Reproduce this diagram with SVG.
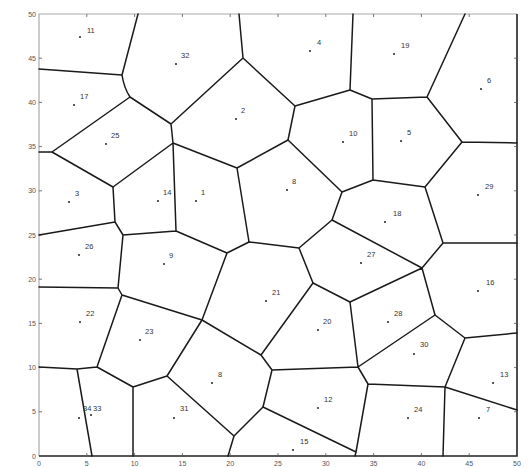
<svg xmlns="http://www.w3.org/2000/svg" width="530" height="468" viewBox="0 0 530 468">
<style>
.e{stroke:#1a1a1a;stroke-width:1.5;fill:none;stroke-linecap:round}
.tk{stroke:#555;stroke-width:0.8}
.ax{font-family:"Liberation Sans",Arial,sans-serif;font-size:7px;fill:#555}
.lb{font-family:"Liberation Sans",Arial,sans-serif;font-size:7.5px;fill:#333}
.pt{fill:#222}
</style>
<rect width="530" height="468" fill="#fff"/>
<g id="axes">
<path d="M39,456 V14 H517" stroke="#aaa" stroke-width="1.2" fill="none"/>
<path d="M39,456 H517 V14" stroke="#222" stroke-width="1.6" fill="none"/>
<path class="tk" d="M86.8,456v-3M134.6,456v-3M182.4,456v-3M230.2,456v-3M278,456v-3M325.8,456v-3M373.6,456v-3M421.4,456v-3M469.2,456v-3M86.8,14v3M134.6,14v3M182.4,14v3M230.2,14v3M278,14v3M325.8,14v3M373.6,14v3M421.4,14v3M469.2,14v3M39,411.8h3M39,367.6h3M39,323.4h3M39,279.2h3M39,235h3M39,190.8h3M39,146.6h3M39,102.4h3M39,58.2h3M517,411.8h-3M517,367.6h-3M517,323.4h-3M517,279.2h-3M517,235h-3M517,190.8h-3M517,146.6h-3M517,102.4h-3M517,58.2h-3"/>
<g class="ax" text-anchor="end">
<text x="36" y="458.5">0</text><text x="36" y="414.3">5</text><text x="36" y="370.1">10</text><text x="36" y="325.9">15</text><text x="36" y="281.7">20</text><text x="36" y="237.5">25</text><text x="36" y="193.3">30</text><text x="36" y="149.1">35</text><text x="36" y="104.9">40</text><text x="36" y="60.7">45</text><text x="36" y="16.5">50</text>
</g>
<g class="ax" text-anchor="middle">
<text x="39" y="466">0</text><text x="86.8" y="466">5</text><text x="134.6" y="466">10</text><text x="182.4" y="466">15</text><text x="230.2" y="466">20</text><text x="278" y="466">25</text><text x="325.8" y="466">30</text><text x="373.6" y="466">35</text><text x="421.4" y="466">40</text><text x="469.2" y="466">45</text><text x="517" y="466">50</text>
</g>
</g>
<g id="connectors" class="e">
<path d="M138,14L122,75M39,69L122,75M122,75Q124,88 130,97M130,97L171,124M171,124L243,58M243,58L239,14M243,58L295,106M171,124L173,143M130,97L52,152M52,152L39,152M52,152L113,187M113,187L173,143M173,143L176,231M173,143L237,168M237,168L288,140M288,140L295,106M295,106L350,90M237,168L249,242"/>
<path d="M113,187L115,222M115,222L39,235M115,222L123,235M123,235L176,231M176,231L227,253M227,253L249,242M227,253L202,320M123,235L118,288M118,288L39,287M118,288L122,295M122,295L202,320M122,295L97,367M97,367L77,369M77,369L39,367M77,369L92,456M97,367L133,387M133,387L133,456M133,387L167,376M167,376L202,320M167,376L234,436M234,436L228,456M234,436L263,407"/>
<path d="M249,242L299,248M299,248L332,220M332,220L342,192M342,192L288,140M342,192L373,180M373,180L372,99M372,99L350,90M350,90L353,14M372,99L427,97M427,97L465,14M427,97L462,142M462,142L517,143M462,142L425,187M425,187L373,180M425,187L443,243M443,243L517,243M443,243L422,268M422,268L332,220M422,268L435,315M299,248L313,283M313,283L350,302M350,302L422,268"/>
<path d="M358,367L435,315M435,315L465,338M465,338L517,333M465,338L445,387M445,387L368,384M368,384L358,367M445,387L443,456M445,387L517,410M368,384L356,452M356,452L355,456M272,370L358,367M350,302L358,367M272,370L263,407M263,407L356,452M261,355L272,370M261,355L202,320M261,355L313,283"/>
</g>
<g id="n11"><circle class="pt" cx="80" cy="37" r="1"/><text class="lb" x="87" y="33">11</text></g>
<g id="n32"><circle class="pt" cx="176" cy="64" r="1"/><text class="lb" x="181" y="58">32</text></g>
<g id="n4"><circle class="pt" cx="310" cy="51" r="1"/><text class="lb" x="317" y="45">4</text></g>
<g id="n19"><circle class="pt" cx="394" cy="54" r="1"/><text class="lb" x="401" y="48">19</text></g>
<g id="n6"><circle class="pt" cx="481" cy="89" r="1"/><text class="lb" x="487" y="83">6</text></g>
<g id="n17"><circle class="pt" cx="74" cy="105" r="1"/><text class="lb" x="80" y="99">17</text></g>
<g id="n2"><circle class="pt" cx="236" cy="119" r="1"/><text class="lb" x="241" y="113">2</text></g>
<g id="n25"><circle class="pt" cx="106" cy="144" r="1"/><text class="lb" x="111" y="138">25</text></g>
<g id="n10"><circle class="pt" cx="343" cy="142" r="1"/><text class="lb" x="349" y="136">10</text></g>
<g id="n5"><circle class="pt" cx="401" cy="141" r="1"/><text class="lb" x="407" y="135">5</text></g>
<g id="n3"><circle class="pt" cx="69" cy="202" r="1"/><text class="lb" x="75" y="196">3</text></g>
<g id="n14"><circle class="pt" cx="158" cy="201" r="1"/><text class="lb" x="163" y="195">14</text></g>
<g id="n1"><circle class="pt" cx="196" cy="201" r="1"/><text class="lb" x="201" y="195">1</text></g>
<g id="n8a"><circle class="pt" cx="287" cy="190" r="1"/><text class="lb" x="292" y="184">8</text></g>
<g id="n18"><circle class="pt" cx="385" cy="222" r="1"/><text class="lb" x="393" y="216">18</text></g>
<g id="n29"><circle class="pt" cx="478" cy="195" r="1"/><text class="lb" x="485" y="189">29</text></g>
<g id="n26"><circle class="pt" cx="79" cy="255" r="1"/><text class="lb" x="85" y="249">26</text></g>
<g id="n9"><circle class="pt" cx="164" cy="264" r="1"/><text class="lb" x="169" y="258">9</text></g>
<g id="n27"><circle class="pt" cx="361" cy="263" r="1"/><text class="lb" x="367" y="257">27</text></g>
<g id="n16"><circle class="pt" cx="478" cy="291" r="1"/><text class="lb" x="486" y="285">16</text></g>
<g id="n21"><circle class="pt" cx="266" cy="301" r="1"/><text class="lb" x="272" y="295">21</text></g>
<g id="n22"><circle class="pt" cx="80" cy="322" r="1"/><text class="lb" x="86" y="316">22</text></g>
<g id="n23"><circle class="pt" cx="140" cy="340" r="1"/><text class="lb" x="145" y="334">23</text></g>
<g id="n20"><circle class="pt" cx="318" cy="330" r="1"/><text class="lb" x="323" y="324">20</text></g>
<g id="n28"><circle class="pt" cx="388" cy="322" r="1"/><text class="lb" x="394" y="316">28</text></g>
<g id="n30"><circle class="pt" cx="414" cy="354" r="1"/><text class="lb" x="420" y="347">30</text></g>
<g id="n8b"><circle class="pt" cx="212" cy="383" r="1"/><text class="lb" x="218" y="377">8</text></g>
<g id="n13"><circle class="pt" cx="493" cy="383" r="1"/><text class="lb" x="500" y="377">13</text></g>
<g id="n12"><circle class="pt" cx="318" cy="408" r="1"/><text class="lb" x="324" y="402">12</text></g>
<g id="n24"><circle class="pt" cx="408" cy="418" r="1"/><text class="lb" x="414" y="412">24</text></g>
<g id="n7"><circle class="pt" cx="479" cy="418" r="1"/><text class="lb" x="486" y="412">7</text></g>
<g id="n31"><circle class="pt" cx="174" cy="418" r="1"/><text class="lb" x="180" y="411">31</text></g>
<g id="n15"><circle class="pt" cx="293" cy="450" r="1"/><text class="lb" x="300" y="444">15</text></g>
<g id="n34"><circle class="pt" cx="79" cy="418" r="1"/><text class="lb" x="83" y="411">34</text></g>
<g id="n33"><circle class="pt" cx="91" cy="415" r="1"/><text class="lb" x="93" y="411">33</text></g>
</svg>
